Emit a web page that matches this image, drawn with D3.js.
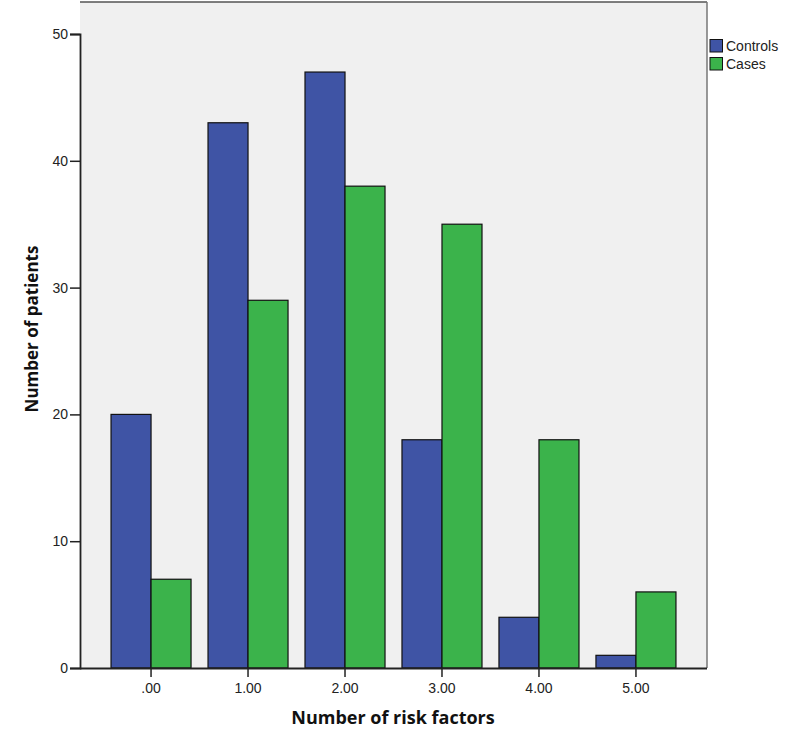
<!DOCTYPE html>
<html><head><meta charset="utf-8">
<script src="https://cdn.jsdelivr.net/npm/d3@7"></script>
<style>body{margin:0;background:#fff}svg{display:block}</style>
</head><body>
<script>
const categories = [".00","1.00","2.00","3.00","4.00","5.00"];
const controls = [20,43,47,18,4,1];
const cases = [7,29,38,35,18,6];
const yTicks = [0,10,20,30,40,50];
const seriesNames = ["Controls","Cases"];
const colors = ["#3f54a5","#3bb34b"];

const W=800,H=747;
const L=80,R=707,T=2,B=668;
const svg=d3.select("body").append("svg").attr("width",W).attr("height",H);
svg.append("rect").attr("x",L).attr("y",T).attr("width",R-L).attr("height",B-T).attr("fill","#f0f0f0");

const x=d3.scaleBand().domain(categories).range([L,R]).paddingInner(0.175).paddingOuter(0.32);
const y=d3.scaleLinear().domain([0,50]).range([B,B-634]);
const xs=d3.scaleBand().domain(seriesNames).range([0,x.bandwidth()]);

const data=categories.map((c,i)=>({c,vals:[controls[i],cases[i]]}));
const g=svg.append("g");
data.forEach(d=>{
  d.vals.forEach((v,j)=>{
    g.append("rect").attr("x",x(d.c)+xs(seriesNames[j])).attr("y",y(v))
     .attr("width",xs.bandwidth()).attr("height",y(0)-y(v))
     .attr("fill",colors[j]).attr("stroke","#111").attr("stroke-width",1.2);
  });
});

// frame
svg.append("line").attr("x1",L).attr("x2",R).attr("y1",T).attr("y2",T).attr("stroke","#555").attr("stroke-width",1.5);
svg.append("line").attr("x1",R).attr("x2",R).attr("y1",T).attr("y2",B).attr("stroke","#777").attr("stroke-width",1.5);

const ya=svg.append("g").attr("transform",`translate(${L},0)`)
  .call(d3.axisLeft(y).tickValues(yTicks).tickSize(10).tickPadding(2));
ya.select(".domain").attr("stroke","#222").attr("stroke-width",1.8);
ya.selectAll(".tick line").attr("stroke","#222").attr("stroke-width",1.5);
ya.selectAll("text").attr("font-family","Arial, Liberation Sans, sans-serif").attr("font-size",14).attr("fill","#222");

const xa=svg.append("g").attr("transform",`translate(0,${B})`)
  .call(d3.axisBottom(x).tickSize(9).tickPadding(6).tickSizeOuter(0));
xa.select(".domain").attr("d",`M${L},0.5H${R}`).attr("stroke","#222").attr("stroke-width",1.8);
xa.selectAll(".tick line").attr("stroke","#222").attr("stroke-width",1.5);
xa.selectAll("text").attr("font-family","Arial, Liberation Sans, sans-serif").attr("font-size",14).attr("fill","#222");

svg.append("text").attr("x",393).attr("y",724).attr("text-anchor","middle")
  .attr("font-family","Open Sans, DejaVu Sans, sans-serif").attr("font-weight","bold").attr("font-size",18).attr("fill","#111")
  .text("Number of risk factors");
svg.append("text").attr("transform",`translate(38,329) rotate(-90)`).attr("text-anchor","middle")
  .attr("font-family","Open Sans, DejaVu Sans, sans-serif").attr("font-weight","bold").attr("font-size",17).attr("fill","#111")
  .text("Number of patients");

const lg=svg.append("g");
seriesNames.forEach((n,i)=>{
  lg.append("rect").attr("x",710).attr("y",39.5+i*18).attr("width",12.5).attr("height",12.5)
    .attr("fill",colors[i]).attr("stroke","#111").attr("stroke-width",1);
  lg.append("text").attr("x",726).attr("y",51+i*18).attr("font-family","Arial, Liberation Sans, sans-serif")
    .attr("font-size",14).attr("fill","#222").text(n);
});
</script>
</body></html>
